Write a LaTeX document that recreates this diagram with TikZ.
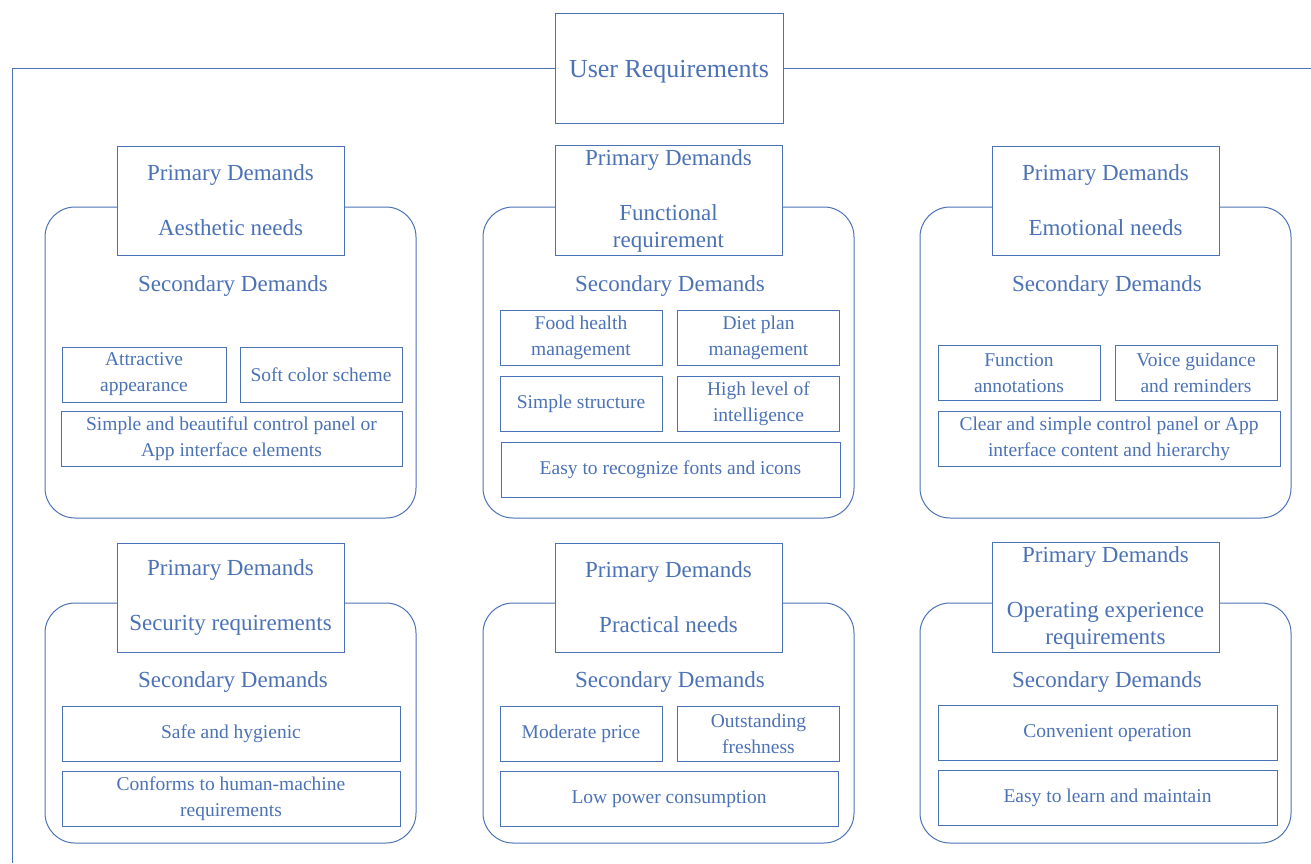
\documentclass[tikz,border=0pt]{standalone}
\usepackage{fontspec}
\setmainfont{Liberation Serif}
\usetikzlibrary{positioning}
\definecolor{reqblue}{RGB}{76,114,182}

\tikzset{
  line/.style={draw=reqblue, line width=1pt},
  title/.style={line, fill=white, minimum width=228pt, minimum height=110pt, text height=21.6pt, text depth=1.7pt, font=\fontsize{26}{30}\selectfont},
  group/.style={line, rounded corners=30pt, minimum width=371pt},
  primary/.style={line, fill=white, align=center, minimum width=227pt, minimum height=109pt, font=\fontsize{23}{27}\selectfont},
  secondary/.style={font=\fontsize{23}{27}\selectfont},
  half/.style={line, align=center, minimum width=162pt, minimum height=55pt, inner sep=0pt, font=\fontsize{19.5}{26}\selectfont},
  full/.style={line, align=center, minimum width=339pt, minimum height=55pt, inner sep=0pt, font=\fontsize{19.5}{26}\selectfont}
}

\begin{document}
\begin{tikzpicture}[x=1pt, y=-1pt, color=reqblue]
        \useasboundingbox (0,0) rectangle (1311,863);

        % Title and outer frame
        \node[title] (user) at (669,68) {User Requirements};
        \coordinate (frametl) at (12,68);
        \coordinate (framebl) at (12,863);
        \coordinate (frametr) at (1311,68);
        \draw[line] (user.west) -- (frametl) -- (framebl);
        \draw[line] (user.east) -- (frametr);

        % Rounded group frames
        \node[group, minimum height=311pt] (aesgroup) at (230.5,362.5) {};
        \node[group, minimum height=311pt] (fungroup) at (668.5,362.5) {};
        \node[group, minimum height=311pt] (emogroup) at (1105.5,362.5) {};
        \node[group, minimum height=240pt] (secgroup) at (230.5,723) {};
        \node[group, minimum height=240pt] (pragroup) at (668.5,723) {};
        \node[group, minimum height=240pt] (opegroup) at (1105.5,723) {};

        % Primary demands
        \node[primary] (aesprim) at (230.5,200.5) {Primary Demands\\[28pt]Aesthetic needs};
        \node[primary] (funprim) at (668.5,200.5) {Primary Demands\\[28pt]Functional\\requirement};
        \node[primary] (emoprim) at (1105.5,200.5) {Primary Demands\\[28pt]Emotional needs};
        \node[primary] (secprim) at (230.5,597.5) {Primary Demands\\[28pt]Security requirements};
        \node[primary] (praprim) at (668.5,597.5) {Primary Demands\\[28pt]Practical needs};
        \node[primary] (opeprim) at (1105.5,597.5) {Primary Demands\\[28pt]Operating experience\\requirements};

        % Secondary demands labels
        \node[secondary] (aessec) at (233,286) {Secondary Demands};
        \node[secondary] (funsec) at (670,286) {Secondary Demands};
        \node[secondary] (emosec) at (1107,286) {Secondary Demands};
        \node[secondary] (secsec) at (233,682) {Secondary Demands};
        \node[secondary] (prasec) at (670,682) {Secondary Demands};
        \node[secondary] (opesec) at (1107,682) {Secondary Demands};

        % Aesthetic needs
        \node[half, minimum width=164pt] (attract) at (144,374.5) {Attractive\\appearance};
        \node[half] (softcolor) at (321,374.5) {Soft color scheme};
        \node[full, minimum width=341pt] (beautiful) at (231.5,439) {Simple and beautiful control panel or\\App interface elements};

        % Functional requirement
        \node[half] (foodhealth) at (581,338) {Food health\\management};
        \node[half] (dietplan) at (758.5,338) {Diet plan\\management};
        \node[half] (simplestruct) at (581,403.5) {Simple structure};
        \node[half] (intelligence) at (758.5,403.5) {High level of\\intelligence};
        \node[full] (fonts) at (670.5,469.5) {Easy to recognize fonts and icons};

        % Emotional needs
        \node[half] (annotations) at (1019,373) {Function\\annotations};
        \node[half] (voice) at (1196,373) {Voice guidance\\and reminders};
        \node[full, minimum width=342pt] (hierarchy) at (1109,438.5) {Clear and simple control panel or App\\interface content and hierarchy};

        % Security requirements
        \node[full, minimum width=338pt] (hygienic) at (231,733.5) {Safe and hygienic};
        \node[full, minimum width=338pt] (humanmachine) at (231,799) {Conforms to human-machine\\requirements};

        % Practical needs
        \node[half] (price) at (581,733.5) {Moderate price};
        \node[half] (freshness) at (758.5,733.5) {Outstanding\\freshness};
        \node[full, minimum width=338pt] (power) at (669,799) {Low power consumption};

        % Operating experience requirements
        \node[full] (convenient) at (1107.5,733) {Convenient operation};
        \node[full] (maintain) at (1107.5,798) {Easy to learn and maintain};
    \end{tikzpicture}
\end{document}
